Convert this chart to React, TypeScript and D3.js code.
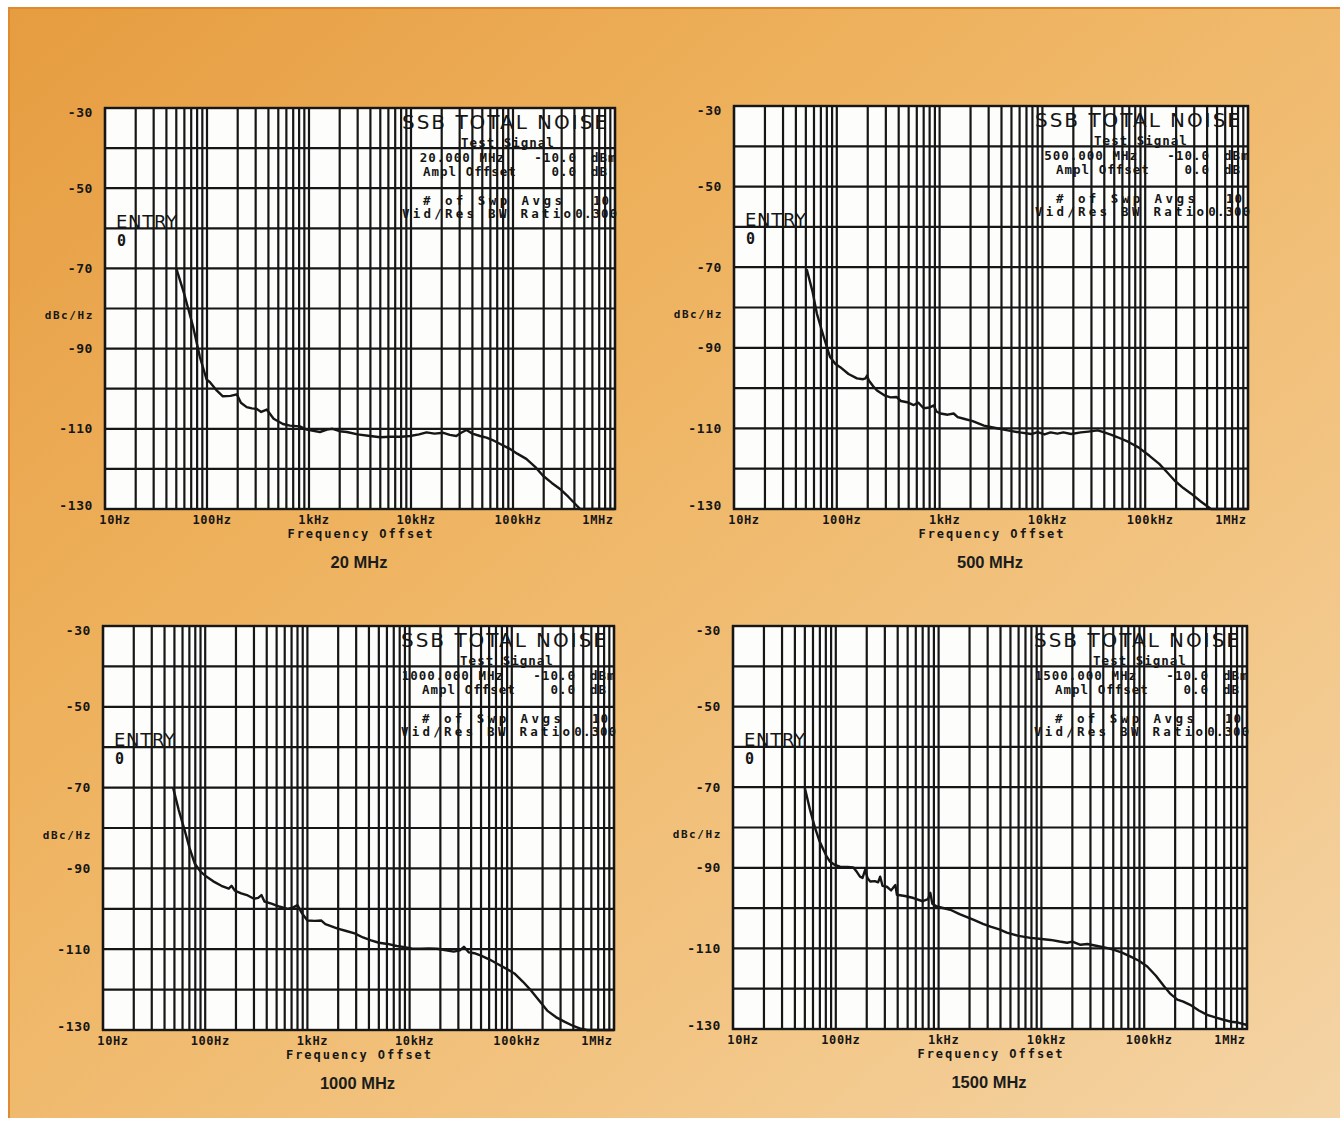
import React from "react";
import * as d3 from "d3";

// axis ticks shared by all four analyzer plots
const X_DECADES = [10, 100, 1000, 10000, 100000, 1000000];
const X_LABELS = ["10Hz", "100Hz", "1kHz", "10kHz", "100kHz", "1MHz"];
const Y_LABEL_VALUES = [-30, -50, -70, -90, -110, -130];
const Y_LABELS = ["-30", "-50", "-70", "-90", "-110", "-130"];

const TITLES = ["20 MHz", "500 MHz", "1000 MHz", "1500 MHz"];
const SIGNALS = ["20.000 MHz", "500.000 MHz", "1000.000 MHz", "1500.000 MHz"];

// SSB phase noise traces: [offset Hz, dBc/Hz]
const NOISE_20: [number, number][] = [
  [50, -70], [60, -76.5], [73, -84.5], [85, -92], [99, -97.7], [107, -98.4],
  [125, -100.5], [143, -101.9], [170, -101.8], [196, -101.4], [215, -103.5],
  [245, -104.6], [275, -104.9], [305, -105], [340, -105.8], [385, -105.2],
  [450, -107.5], [555, -108.8], [650, -109.2], [813, -109.4], [950, -110.2],
  [1280, -110.8], [1500, -110.2], [1700, -110], [2000, -110.6], [2350, -110.8],
  [3000, -111.4], [3970, -111.8], [5000, -112.1], [6200, -112], [8000, -112],
  [9800, -111.8], [12000, -111.4], [14200, -110.9], [17000, -111.2],
  [20800, -111], [24000, -111.5], [27800, -111.8], [31000, -111],
  [35000, -110.3], [40000, -111.2], [47500, -111.8], [55000, -112.2],
  [63000, -112.8], [75000, -113.8], [93000, -115], [110000, -116.2],
  [135000, -117.5], [165000, -119.5], [197000, -121.7], [240000, -123.5],
  [289000, -125], [350000, -127], [424000, -129.2], [457000, -130],
  [600000, -130], [1000000, -130],
];

const NOISE_500: [number, number][] = [
  [51, -70.5], [58, -76], [64, -81.5], [75, -87.5], [86, -92.3], [97, -94],
  [108, -94.8], [130, -96.5], [157, -97.6], [180, -97.8], [190, -97.6],
  [197, -96.9], [205, -98.1], [225, -99.5], [246, -100.6], [290, -101.8],
  [333, -102.3], [380, -102.2], [420, -103.2], [483, -103.5], [560, -104.2],
  [620, -103.6], [700, -105], [800, -104.8], [880, -104.3], [930, -105.8],
  [1020, -106.3], [1200, -106.6], [1370, -106.3], [1500, -107.2],
  [1720, -107.6], [2100, -108.2], [2700, -109.3], [3500, -109.9],
  [4600, -110.5], [6000, -111], [7800, -111.4], [9000, -110.9],
  [10500, -111.5], [12000, -111], [14000, -111.3], [16000, -111],
  [19000, -111.4], [23700, -111], [28000, -110.8], [34600, -110.5],
  [40000, -111], [47000, -111.6], [54000, -112.2], [68000, -113.3],
  [86000, -114.7], [110000, -116.8], [137000, -118.8], [165000, -121],
  [194000, -123], [235000, -124.8], [280000, -126.2], [350000, -128.2],
  [437000, -130], [1000000, -130],
];

const NOISE_1000: [number, number][] = [
  [48.5, -70], [55, -75.5], [63, -80.6], [70, -84.8], [79, -88.8], [90, -90.8],
  [100, -91.8], [120, -93.2], [144, -94.3], [170, -95], [181, -94.3],
  [195, -95.5], [225, -96.2], [261, -96.7], [300, -97.5], [330, -97.3],
  [355, -96.6], [380, -98.2], [445, -98.7], [540, -99.5], [640, -100],
  [720, -99.7], [800, -99.1], [880, -101], [1000, -102.9], [1180, -103],
  [1370, -102.9], [1500, -103.8], [1980, -104.9], [2400, -105.5],
  [2900, -106.1], [3500, -107.1], [4200, -107.8], [5000, -108.4],
  [6100, -108.7], [7500, -109.2], [8900, -109.5], [10500, -109.8],
  [12900, -109.9], [15500, -109.8], [18600, -109.9], [22000, -110.2],
  [27000, -110.6], [31000, -110.3], [34000, -109.4], [38000, -110.8],
  [43000, -111], [50000, -111.6], [60000, -112.5], [72000, -113.6],
  [88000, -114.8], [106000, -116], [128000, -118], [154000, -120.2],
  [185000, -122.7], [222000, -125.2], [270000, -126.8], [330000, -128],
  [400000, -129], [475000, -129.7], [550000, -130], [1000000, -130],
];

const NOISE_1500: [number, number][] = [
  [50, -70.2], [56, -75.5], [62.8, -80.1], [69, -83.2], [76, -85.6],
  [82, -87.3], [88, -88.5], [98, -89.3], [110, -89.7], [130, -89.8],
  [148, -89.9], [160, -91], [172, -92.2], [182, -92.5], [193, -90.5],
  [204, -92.6], [216, -93.4], [240, -93.3], [258, -93.6], [270, -92.2],
  [285, -94.5], [314, -94.7], [345, -95.6], [365, -94.8], [380, -94.3],
  [393, -96.7], [470, -97], [570, -97.5], [700, -98.3], [790, -97.8],
  [830, -96.2], [870, -98.9], [960, -99.6], [1300, -100.4], [1600, -101.5],
  [2200, -102.9], [2700, -103.9], [3200, -104.6], [3900, -105.3],
  [4600, -106.1], [6000, -106.9], [7800, -107.4], [9500, -107.6],
  [12300, -107.9], [15000, -108.3], [17800, -108.6], [20000, -108.3],
  [24000, -109.1], [28000, -108.9], [35000, -109.4], [42000, -109.8],
  [50000, -110.3], [60000, -111], [73000, -112], [88000, -113],
  [107000, -114.5], [130000, -116.8], [156000, -119.4], [180000, -121.3],
  [210000, -122.7], [240000, -123.2], [280000, -124], [340000, -125.4],
  [410000, -126.5], [500000, -127.2], [590000, -127.7], [700000, -128.2],
  [820000, -128.4], [1000000, -129],
];

const TRACES = [NOISE_20, NOISE_500, NOISE_1000, NOISE_1500];

const BOXES = [
  { x0: 105, x1: 615, y0: 108, y1: 509 },
  { x0: 734, x1: 1248, y0: 106, y1: 509 },
  { x0: 103, x1: 614, y0: 626, y1: 1030 },
  { x0: 733, x1: 1247, y0: 626, y1: 1029 },
];

const INK = "#161616";
const MONO = "'DejaVu Sans Mono', monospace";

function Panel({ box, trace, title, signal }) {
  const { x0, x1, y0, y1 } = box;
  const x = d3.scaleLog().domain([10, 1e6]).range([x0, x1]);
  const y = d3.scaleLinear().domain([-130, -30]).range([y1, y0]).clamp(true);

  const vLines: number[] = [];
  for (let i = 0; i < X_DECADES.length - 1; i++) {
    for (let m = 1; m <= 9; m++) vLines.push(X_DECADES[i] * m);
  }
  vLines.push(1e6);
  const hLines = d3.range(-130, -29, 10);

  const line = d3
    .line<[number, number]>()
    .x((d) => x(d[0]))
    .y((d) => y(d[1]));

  const cx = (x0 + x1) / 2;
  const rowText = { fontFamily: MONO, fontWeight: 700, fontSize: 12.5, letterSpacing: 1, fill: INK };

  return (
    <g>
      <rect x={x0} y={y0} width={x1 - x0} height={y1 - y0} fill="#fdfdfb" />

      {/* annotation block */}
      <text x={x1 - 213} y={y0 + 21} fontFamily="'DejaVu Sans', sans-serif" fontSize={20}
        textLength={205} lengthAdjust="spacing" fill={INK}>SSB TOTAL NOISE</text>
      <text x={x1 - 107} y={y0 + 39} textAnchor="middle" style={rowText}>Test Signal</text>
      <text x={x1 - 110} y={y0 + 54} textAnchor="end" style={rowText}>{signal}</text>
      <text x={x1 - 38} y={y0 + 54} textAnchor="end" style={rowText}>-10.0</text>
      <text x={x1 - 24} y={y0 + 54} style={rowText}>dBm</text>
      <text x={x1 - 192} y={y0 + 68} style={rowText}>Ampl Offset</text>
      <text x={x1 - 38} y={y0 + 68} textAnchor="end" style={rowText}>0.0</text>
      <text x={x1 - 24} y={y0 + 68} style={rowText}>dB</text>
      <text x={x1 - 192} y={y0 + 97} style={rowText} textLength={140} lengthAdjust="spacing"># of Swp Avgs</text>
      <text x={x1 - 5} y={y0 + 97} textAnchor="end" style={rowText}>10</text>
      <text x={x1 - 213} y={y0 + 110} style={rowText} textLength={170} lengthAdjust="spacing">Vid/Res BW Ratio</text>
      <text x={x1 + 3} y={y0 + 110} textAnchor="end" style={rowText}>0.300</text>

      <text x={x0 + 11} y={y0 + 120} fontFamily="'DejaVu Sans', sans-serif" fontSize={18}
        textLength={61} lengthAdjust="spacing" fill={INK}>ENTRY</text>
      <text x={x0 + 12} y={y0 + 138} fontFamily={MONO} fontWeight={700} fontSize={15} fill={INK}>0</text>

      {/* grid */}
      {vLines.map((f, i) => (
        <line key={"v" + i} x1={x(f)} x2={x(f)} y1={y0} y2={y1} stroke={INK} strokeWidth={2.2} />
      ))}
      {hLines.map((v) => (
        <line key={"h" + v} x1={x0} x2={x1} y1={y(v)} y2={y(v)} stroke={INK} strokeWidth={2.2} />
      ))}
      <rect x={x0} y={y0} width={x1 - x0} height={y1 - y0} fill="none" stroke={INK} strokeWidth={2.4} />

      {/* trace */}
      <path d={line(trace) ?? ""} fill="none" stroke={INK} strokeWidth={2.4} strokeLinejoin="round" />

      {/* y axis */}
      {Y_LABEL_VALUES.map((v, i) => (
        <text key={"yl" + v} x={x0 - 12} y={Math.min(Math.max(y(v), y0 + 4), y1 - 4)}
          dominantBaseline="central" textAnchor="end" fontFamily={MONO} fontWeight={700}
          fontSize={13} letterSpacing={0.6} fill={INK}>{Y_LABELS[i]}</text>
      ))}
      <text x={x0 - 11} y={y(-80) + 7} dominantBaseline="central" textAnchor="end"
        fontFamily={MONO} fontWeight={700} fontSize={11} letterSpacing={1.6} fill={INK}>dBc/Hz</text>

      {/* x axis */}
      {X_DECADES.map((v, i) => (
        <text key={"xl" + v} x={Math.min(Math.max(x(v) + 5, x0 + 10), x1 - 17)} y={y1 + 15}
          textAnchor="middle" fontFamily={MONO} fontWeight={700} fontSize={12}
          letterSpacing={0.6} fill={INK}>{X_LABELS[i]}</text>
      ))}
      <text x={cx} y={y1 + 29} textAnchor="middle" fontFamily={MONO} fontWeight={700}
        fontSize={12} textLength={145} lengthAdjust="spacing" fill={INK}>Frequency Offset</text>

      <text x={cx - 1} y={y1 + 59} textAnchor="middle" fontFamily="'Liberation Sans', Arial, sans-serif"
        fontWeight={700} fontSize={16.5} fill="#1c1c1c">{title}</text>
    </g>
  );
}

export default function App() {
  return (
    <svg width={1340} height={1123} style={{ position: "absolute", left: 0, top: 0, display: "block" }}>
      <defs>
        <linearGradient id="paper" x1="0" y1="0" x2="1" y2="1">
          <stop offset="0" stopColor="#e69c40" />
          <stop offset="0.35" stopColor="#eeb25e" />
          <stop offset="0.7" stopColor="#f2c482" />
          <stop offset="1" stopColor="#f4d4a6" />
        </linearGradient>
      </defs>
      <rect width={1340} height={1123} fill="#ffffff" />
      <rect x={9} y={8} width={1331} height={1110} fill="url(#paper)" />
      <path d="M9,1118 V8 H1340" fill="none" stroke="#df8a2e" strokeWidth={2} />
      {BOXES.map((b, i) => (
        <Panel key={i} box={b} trace={TRACES[i]} title={TITLES[i]} signal={SIGNALS[i]} />
      ))}
    </svg>
  );
}
